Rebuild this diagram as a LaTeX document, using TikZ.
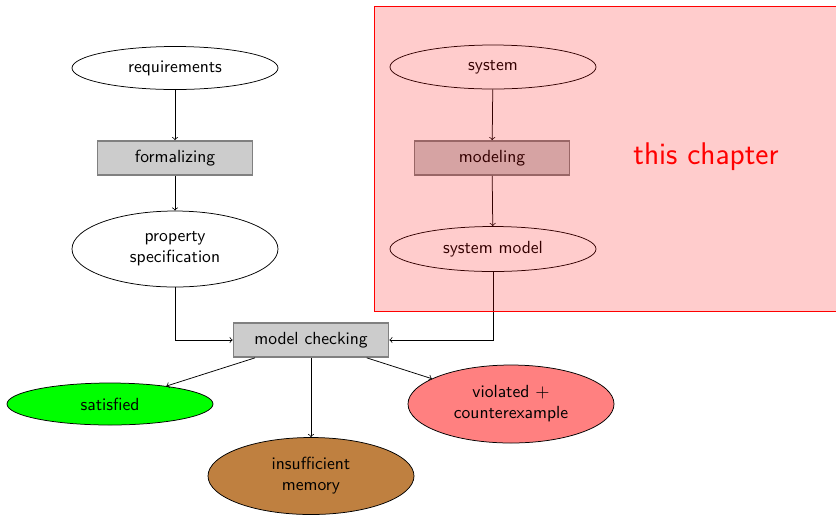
\documentclass[tikz,border=0pt]{standalone}
\usetikzlibrary{shapes.geometric}
\begin{document}
\begin{tikzpicture}[x=0.6pt,y=-0.6pt,
  every node/.style={font=\sffamily\fontsize{10.55}{12.6}\selectfont},
  flow/.style={->,draw=black,line width=0.45pt},
  stage/.style={ellipse,draw=black,line width=0.45pt,align=center,minimum width=123.6pt,inner sep=1pt},
  taskbox/.style={rectangle,draw=gray,fill=gray!40,line width=1pt,minimum width=93pt,minimum height=20.4pt}]
  \useasboundingbox (0,0) rectangle (836,516);

  % left column: requirements
  \node[stage,minimum height=25.8pt] (req) at (175,68) {requirements};
  \node[taskbox] (form) at (175,158) {formalizing};
  \node[stage,minimum height=45.6pt] (prop) at (175,249) {property\\specification};

  % right column: system
  \node[stage,minimum height=26.4pt] (sys) at (493,67) {system};
  \node[taskbox] (model) at (492,158) {modeling};
  \node[stage,minimum height=27pt] (sysm) at (493,249) {system model};

  % checking and outcomes
  \node[taskbox] (mc) at (311,340) {model checking};
  \node[stage,fill=green,minimum height=25.2pt] (sat) at (110,404) {satisfied};
  \node[stage,fill=brown,minimum height=46.2pt] (mem) at (311,476) {insufficient\\memory};
  \node[stage,fill=red!50,minimum height=46.8pt] (viol) at (511,404) {violated $+$\\counterexample};

  \draw[flow] (req) -- (form);
  \draw[flow] (form) -- (prop);
  \draw[flow] (sys) -- (model);
  \draw[flow] (model) -- (sysm);
  \draw[flow] (prop) |- (mc);
  \draw[flow] (sysm) |- (mc);
  \draw[flow] (mc) -- (sat);
  \draw[flow] (mc) -- (mem);
  \draw[flow] (mc) -- (viol);

  % highlighted region
  \draw[red,fill=red,fill opacity=0.2] (374,6) rectangle (845,311);
  \node[red,font=\sffamily\fontsize{18.8}{22}\selectfont] (chap) at (706,157) {this chapter};
\end{tikzpicture}
\end{document}
